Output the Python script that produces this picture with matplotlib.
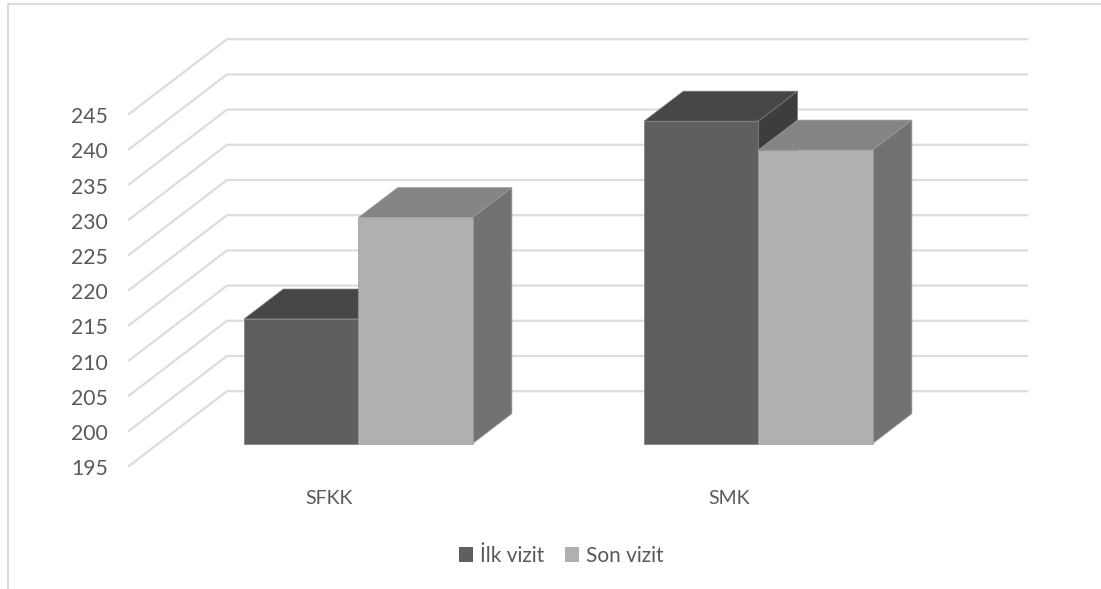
import matplotlib
matplotlib.use('Agg')
import matplotlib.pyplot as plt
from matplotlib.lines import Line2D
from matplotlib.patches import Patch, Polygon
from matplotlib.transforms import ScaledTranslation
import numpy as np

categories = ['SFKK', 'SMK']
series_names = ['İlk vizit', 'Son vizit']
ilk_vizit = [212.7, 240.8]
son_vizit = [227.1, 236.7]
y_ticks = np.arange(195, 250, 5)

W, H = 1101, 589
TEXT = '#595959'
GRID = '#dcdcdc'

# front, top, side and edge shades of each series
shades = [('#5f5f5f', '#474747', '#3d3d3d', '#7c7c7c'),
          ('#b0b0b0', '#858585', '#727272', '#9c9c9c')]

# how far the back wall is shifted from the front plane
depth_x = 98 / 400
depth_y = 74.8 / 7.04
bar_front, bar_back = 0.30, 0.70
bar_w = 0.2857


def project(x, v, d):
    return (x + d * depth_x, v + d * depth_y)


fig = plt.figure(figsize=(W / 100, H / 100), dpi=100)
plt.rcParams['font.family'] = ['Lato', 'DejaVu Sans']

# axes box is the front plane: 2 categories wide, 195 to 245 tall
ax = fig.add_axes([129 / W, 1 - 466 / H, 800 / W, 352 / H])
ax.set_xlim(0, 2)
ax.set_ylim(195, 245)
for s in ax.spines.values():
    s.set_visible(False)
ax.patch.set_visible(False)

ax.set_yticks(y_ticks)
ax.set_xticks([0.5, 1.5])
ax.set_xticklabels(categories)
ax.tick_params(axis='y', length=0, pad=15.3, labelsize=15.2, labelcolor=TEXT)
ax.tick_params(axis='x', length=0, pad=17.2, labelsize=14, labelcolor=TEXT)

# the numbers sit a little under their gridline ends
nudge = ScaledTranslation(0, -0.8 / 72, fig.dpi_scale_trans)
for label in ax.get_yticklabels():
    label.set_transform(label.get_transform() + nudge)

# gridlines run along the side wall then across the back wall
for v in y_ticks:
    pts = [project(0, v, 0), project(0, v, 1), project(2, v, 1)]
    ax.add_line(Line2D(*zip(*pts), color=GRID, lw=1.6, clip_on=False, zorder=1))


def draw_bar(x0, value, colors):
    x1 = x0 + bar_w
    front = [project(x0, 195, bar_front), project(x1, 195, bar_front),
             project(x1, value, bar_front), project(x0, value, bar_front)]
    top = [project(x0, value, bar_front), project(x1, value, bar_front),
           project(x1, value, bar_back), project(x0, value, bar_back)]
    side = [project(x1, 195, bar_front), project(x1, 195, bar_back),
            project(x1, value, bar_back), project(x1, value, bar_front)]
    for pts, c in ((top, colors[1]), (side, colors[2]), (front, colors[0])):
        ax.add_patch(Polygon(pts, closed=True, facecolor=c, edgecolor=colors[3],
                             lw=0.5, clip_on=False, zorder=2))


for i in range(len(categories)):
    center = i + 0.5
    draw_bar(center - bar_w, ilk_vizit[i], shades[0])
    draw_bar(center, son_vizit[i], shades[1])

# chart border, only top and left show
fig.add_artist(Line2D([8.3 / W, 8.3 / W, 1], [0, 1 - 4 / H, 1 - 4 / H],
                      color=GRID, lw=1.5))

handles = [Patch(facecolor=shades[0][0]), Patch(facecolor=shades[1][0])]
fig.legend(handles, series_names, loc='center', bbox_to_anchor=(561 / W, 1 - 555.5 / H),
           ncol=2, frameon=False, fontsize=15, labelcolor=TEXT,
           handlelength=0.7, handleheight=0.7, handletextpad=0.3, columnspacing=1.0)

fig.savefig('out.png', dpi=100)
